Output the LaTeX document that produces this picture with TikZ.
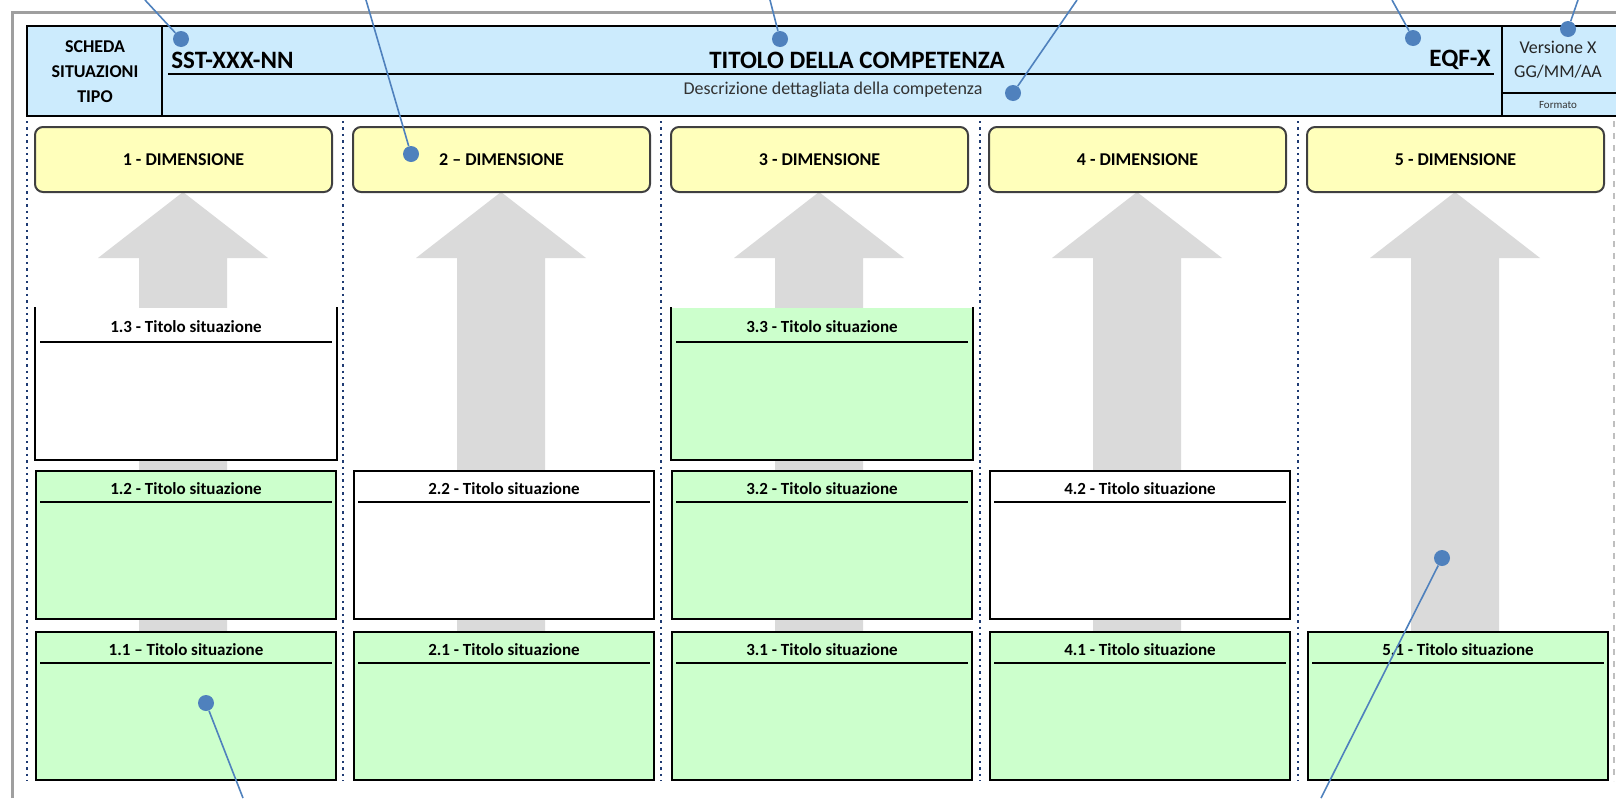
\documentclass[tikz,border=0pt]{standalone}
\usepackage{fontspec}
\setmainfont{Carlito}
\usetikzlibrary{positioning}

\definecolor{headblue}{HTML}{CCEBFD}
\definecolor{dimyellow}{HTML}{FFFFBB}
\definecolor{sitgreen}{HTML}{CCFFCC}
\definecolor{arrowgray}{HTML}{DADADA}
\definecolor{calloutblue}{HTML}{4F81BD}
\definecolor{sepblue}{HTML}{1F3B73}

\tikzset{
  dimbox/.style={draw=black!75, line width=1pt, fill=dimyellow, rounded corners=4pt,
    minimum width=148.5pt, minimum height=32.5pt, inner sep=0pt,
    font=\bfseries\fontsize{9}{11}\selectfont},
  sitbox/.style={draw, line width=1pt, anchor=north west, inner sep=0pt,
    minimum width=150pt, minimum height=74pt},
  sittitle/.style={font=\bfseries\fontsize{8.5}{10}\selectfont, inner sep=0pt},
  titleline/.style={line width=1pt},
  sepline/.style={sepblue, line width=1.2pt, dotted},
  calldot/.style={circle, fill=calloutblue, inner sep=0pt, minimum size=8pt},
  callline/.style={calloutblue, line width=0.8pt}
}

\begin{document}
\begin{tikzpicture}[x=0.5pt, y=-0.5pt]
    \useasboundingbox (0,0) rectangle (1616,798);
    % outer frame
    \draw[gray!75, line width=1.5pt] (12,798) -- (12,12) -- (1616,12);

    % header
    \fill[headblue] (27,26) rectangle (1616,116);
    \draw[line width=1pt] (1616,26) -- (27,26) -- (27,116) -- (1616,116);
    \draw[line width=1pt] (162,26) -- (162,116);
    \draw[line width=1pt] (1502,26) -- (1502,116);
    \draw[line width=1pt] (168,74) -- (1494,74);
    \draw[line width=0.8pt] (1502,93) -- (1616,93);
    \node[font=\bfseries\fontsize{9}{12.5}\selectfont, align=center] (scheda) at (95,72) {SCHEDA\\SITUAZIONI\\TIPO};
    \node[font=\bfseries\fontsize{12.5}{15}\selectfont, anchor=west, inner sep=0pt] (code) at (171,60) {SST-XXX-NN};
    \node[font=\bfseries\fontsize{12.5}{15}\selectfont, inner sep=0pt] (title) at (857,60) {TITOLO DELLA COMPETENZA};
    \node[font=\bfseries\fontsize{12.5}{15}\selectfont, anchor=east, inner sep=0pt] (eqf) at (1491,60) {EQF-X};
    \node[font=\fontsize{9}{10}\selectfont, text=black!80, inner sep=0pt] (descr) at (833,90) {Descrizione dettagliata della competenza};
    \node[font=\fontsize{9}{12}\selectfont, text=black!85, align=center] (version) at (1558,60) {Versione X\\GG/MM/AA};
    \node[font=\fontsize{5.5}{6}\selectfont, text=black!80, inner sep=0pt] (formato) at (1558,105) {Formato};

    % column separators
    \foreach \x in {27,343,661,980,1298}
        \draw[sepline] (\x,121) -- (\x,781);
    \draw[gray!50, dashed, line width=0.6pt] (1614,121) -- (1614,781);

    % arrows
    \foreach \i in {0,...,4} {
        \begin{scope}[xshift=\i*159pt]
        \fill[arrowgray] (183,192) -- (268,258) -- (227,258) -- (227,631)
            -- (139,631) -- (139,258) -- (98,258) -- cycle;
        \end{scope}
    }

    % dimensions
    \foreach \n/\d in {1/-,2/–,3/-,4/-,5/-}
        \node[dimbox] (dim\n) at ({183.5+318*(\n-1)},159.5) {\n\ \d\ DIMENSIONE};

    % situations (closed)
    \foreach \nm/\x/\y/\f/\t in {s11/35/631/sitgreen/{1.1 – Titolo situazione},
        s12/35/470/sitgreen/{1.2 - Titolo situazione},
        s21/353/631/sitgreen/{2.1 - Titolo situazione},
        s22/353/470/white/{2.2 - Titolo situazione},
        s31/671/631/sitgreen/{3.1 - Titolo situazione},
        s32/671/470/sitgreen/{3.2 - Titolo situazione},
        s41/989/631/sitgreen/{4.1 - Titolo situazione},
        s42/989/470/white/{4.2 - Titolo situazione},
        s51/1307/631/sitgreen/{5.1 - Titolo situazione}} {
        \node[sitbox, fill=\f] (\nm) at (\x,\y) {};
        \node[sittitle] (\nm t) at ([yshift=-9.5pt]\nm.north) {\t};
        \draw[titleline] ([xshift=2.5pt, yshift=-16pt]\nm.north west) -- ([xshift=-2.5pt, yshift=-16pt]\nm.north east);
    }

    % situations (open top)
    \foreach \nm/\x/\f/\t in {s13/35/white/{1.3 - Titolo situazione},
        s33/671/sitgreen/{3.3 - Titolo situazione}} {
        \node[sitbox, draw=none, fill=\f, minimum height=75.5pt] (\nm) at (\x,307) {};
        \draw[line width=1pt] (\nm.north west) -- (\nm.south west) -- (\nm.south east) -- (\nm.north east);
        \node[sittitle] (\nm t) at ([yshift=-10pt]\nm.north) {\t};
        \draw[titleline] ([xshift=2.5pt, yshift=-17.5pt]\nm.north west) -- ([xshift=-2.5pt, yshift=-17.5pt]\nm.north east);
    }

    % callouts
    \coordinate (e1) at (145,0);
    \coordinate (e2) at (366,0);
    \coordinate (e3) at (770,0);
    \coordinate (e4) at (1077,0);
    \coordinate (e5) at (1392,0);
    \coordinate (e6) at (1578,0);
    \coordinate (e7) at (243,798);
    \coordinate (e8) at (1321,798);
    \node[calldot] (c1) at (181,39) {};
    \node[calldot] (c2) at (411,154) {};
    \node[calldot] (c3) at (780,39) {};
    \node[calldot] (c4) at (1013,93) {};
    \node[calldot] (c5) at (1413,38) {};
    \node[calldot] (c6) at (1568,29) {};
    \node[calldot] (c7) at (206,703) {};
    \node[calldot] (c8) at (1442,558) {};
    \foreach \k in {1,...,8}
        \draw[callline] (c\k) -- (e\k);
\end{tikzpicture}
\end{document}
